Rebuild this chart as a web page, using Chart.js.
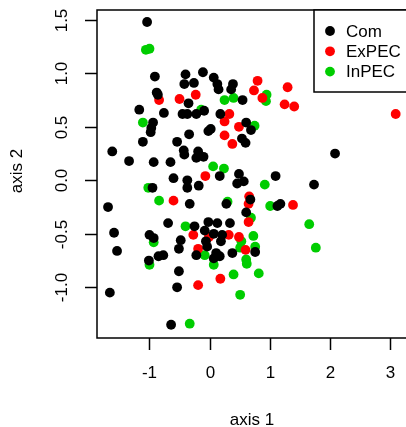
<!DOCTYPE html>
<html>
<head>
<meta charset="utf-8">
<script src="https://cdn.jsdelivr.net/npm/chart.js@4.4.1/dist/chart.umd.min.js"></script>
<style>
  html, body { margin: 0; padding: 0; background: #fff; overflow: hidden; }
  canvas { display: block; }
</style>
</head>
<body>
<canvas id="ordChart" width="412" height="427"></canvas>
<script>
// ordination scatter, drawn to look like R base graphics

const seriesNames = ["Com", "ExPEC", "InPEC"];
const seriesColors = ["#000000", "#ff0000", "#00cd00"];

// [axis 1, axis 2]
const comPoints = [
  [-1.04,1.48],[-0.91,0.97],[-0.40,0.99],[-0.42,0.90],[-0.26,0.91],[-0.11,1.01],[0.07,0.96],[0.13,0.90],
  [0.15,0.85],[0.39,0.90],[0.36,0.85],[-0.88,0.82],[-0.86,0.80],[-0.35,0.72],[0.55,0.75],[-1.17,0.66],
  [-0.76,0.63],[-0.45,0.62],[-0.37,0.62],[-0.22,0.62],[-0.09,0.65],[0.18,0.62],[-0.94,0.54],[-0.97,0.49],
  [-0.98,0.45],[-0.34,0.43],[0.02,0.48],[-0.02,0.46],[0.61,0.54],[0.69,0.47],[0.54,0.39],[0.60,0.35],
  [-1.11,0.36],[-0.54,0.36],[-1.62,0.27],[-1.34,0.18],[-0.43,0.28],[-0.42,0.24],[-0.19,0.27],[-0.22,0.21],
  [-0.10,0.22],[-0.93,0.17],[-0.65,0.17],[0.49,0.06],[0.17,0.04],[0.57,-0.01],[0.46,-0.03],[-0.60,0.02],
  [-0.37,0.00],[-0.37,-0.07],[-0.18,-0.05],[-0.95,-0.07],[-0.33,-0.22],[-1.69,-0.25],[0.28,-0.22],[0.68,-0.18],
  [1.13,-0.24],[1.18,-0.22],[0.61,-0.30],[1.10,0.04],[2.09,0.25],[1.74,-0.04],[-0.69,-0.40],[-0.25,-0.43],
  [-0.02,-0.39],[0.13,-0.40],[0.34,-0.40],[-1.59,-0.49],[-1.00,-0.51],[-0.93,-0.54],[-0.48,-0.56],[-0.51,-0.64],
  [-0.08,-0.47],[0.07,-0.50],[0.21,-0.51],[-0.06,-0.57],[-0.04,-0.62],[0.11,-0.68],[0.17,-0.71],[0.07,-0.73],
  [0.38,-0.68],[0.76,-0.67],[-1.54,-0.66],[-1.01,-0.75],[-0.85,-0.71],[-0.77,-0.70],[-0.22,-0.70],[-0.51,-0.85],
  [-0.54,-1.00],[-1.66,-1.05],[-0.64,-1.35],[0.19,-0.57]
];
const expecPoints = [
  [-0.84,0.75],[-0.50,0.76],[-0.23,0.80],[0.33,0.62],[0.25,0.55],[0.49,0.50],[0.25,0.42],[0.38,0.34],
  [0.80,0.93],[0.74,0.84],[0.88,0.77],[1.30,0.87],[1.25,0.71],[1.41,0.69],[3.10,0.62],[-0.07,0.04],
  [-0.60,-0.19],[0.66,-0.15],[0.65,-0.22],[1.39,-0.23],[0.65,-0.39],[-0.27,-0.51],[-0.01,-0.53],[-0.19,-0.64],
  [0.32,-0.51],[0.49,-0.53],[0.60,-0.65],[0.18,-0.92],[-0.19,-0.98]
];
const inpecPoints = [
  [-1.06,1.22],[-1.00,1.23],[0.25,0.75],[0.40,0.77],[-0.14,0.66],[-1.11,0.54],[0.95,0.80],[0.94,0.74],
  [0.75,0.51],[0.06,0.13],[0.24,0.11],[-1.02,-0.07],[-0.84,-0.19],[0.30,-0.20],[0.92,-0.04],[1.01,-0.24],
  [0.69,-0.35],[1.66,-0.41],[-0.40,-0.43],[-0.93,-0.58],[-0.08,-0.70],[-1.00,-0.79],[0.07,-0.79],[0.73,-0.52],
  [0.53,-0.57],[0.51,-0.63],[0.76,-0.62],[0.61,-0.74],[0.62,-0.78],[0.40,-0.88],[0.82,-0.87],[0.51,-1.07],
  [1.77,-0.63],[-0.33,-1.34]
];

const xTicks = [-1, 0, 1, 2, 3];
const yTicks = [-1.0, -0.5, 0.0, 0.5, 1.0, 1.5];
const xTitle = "axis 1";
const yTitle = "axis 2";

const FONT = '17px "Liberation Sans", Arial, sans-serif';
const DOT = 4.9;

const toXY = pts => pts.map(p => ({ x: p[0], y: p[1] }));
const allSeries = [comPoints, expecPoints, inpecPoints];

// box, ticks, labels and legend in the R style
const rStyle = {
  id: "rStyle",
  afterDatasetsDraw(chart) {
    const { ctx, chartArea: a, scales: { x, y } } = chart;
    const line = (x1, y1, x2, y2) => {
      ctx.beginPath(); ctx.moveTo(x1, y1); ctx.lineTo(x2, y2); ctx.stroke();
    };
    ctx.save();
    ctx.strokeStyle = "#000";
    ctx.lineWidth = 1.5;
    ctx.fillStyle = "#000";
    ctx.font = FONT;
    ctx.textAlign = "center";
    ctx.textBaseline = "middle";

    ctx.strokeRect(a.left, a.top, a.right - a.left, a.bottom - a.top);

    xTicks.forEach(v => {
      const px = Math.round(x.getPixelForValue(v)) + 0.5;
      line(px, a.bottom, px, a.bottom + 12);
      ctx.fillText(String(v), px, a.bottom + 35);
    });
    yTicks.forEach(v => {
      const py = Math.round(y.getPixelForValue(v)) + 0.5;
      line(a.left - 12, py, a.left, py);
      ctx.save();
      ctx.translate(a.left - 35, py);
      ctx.rotate(-Math.PI / 2);
      ctx.fillText(v.toFixed(1), 0, 0);
      ctx.restore();
    });

    ctx.fillText(xTitle, (a.left + a.right) / 2, 420);
    ctx.save();
    ctx.translate(17, 171);
    ctx.rotate(-Math.PI / 2);
    ctx.fillText(yTitle, 0, 0);
    ctx.restore();

    // legend (topright)
    const lx = 314, ly = a.top, lh = 82;
    ctx.fillStyle = "#fff";
    ctx.fillRect(lx, ly, a.right - lx, lh);
    ctx.strokeRect(lx, ly, a.right - lx, lh);
    ctx.textAlign = "left";
    seriesNames.forEach((name, i) => {
      const cy = ly + 21 + i * 20.3;
      ctx.fillStyle = seriesColors[i];
      ctx.beginPath();
      ctx.arc(330, cy, DOT, 0, Math.PI * 2);
      ctx.fill();
      ctx.fillStyle = "#000";
      ctx.fillText(name, 346, cy + 1);
    });
    ctx.restore();
  }
};

new Chart(document.getElementById("ordChart"), {
  type: "scatter",
  data: {
    datasets: seriesNames.map((name, i) => ({
      label: name,
      data: toXY(allSeries[i]),
      backgroundColor: seriesColors[i],
      borderWidth: 0,
      pointRadius: DOT,
      pointHoverRadius: DOT
    }))
  },
  options: {
    responsive: false,
    animation: false,
    devicePixelRatio: 1,
    layout: { padding: { left: 97, top: 10, right: 4, bottom: 89 } },
    scales: {
      x: { type: "linear", min: -1.874, max: 3.29, display: false },
      y: { type: "linear", min: -1.474, max: 1.592, display: false }
    },
    plugins: {
      legend: { display: false },
      tooltip: { enabled: false }
    }
  },
  plugins: [rStyle]
});
</script>
</body>
</html>
